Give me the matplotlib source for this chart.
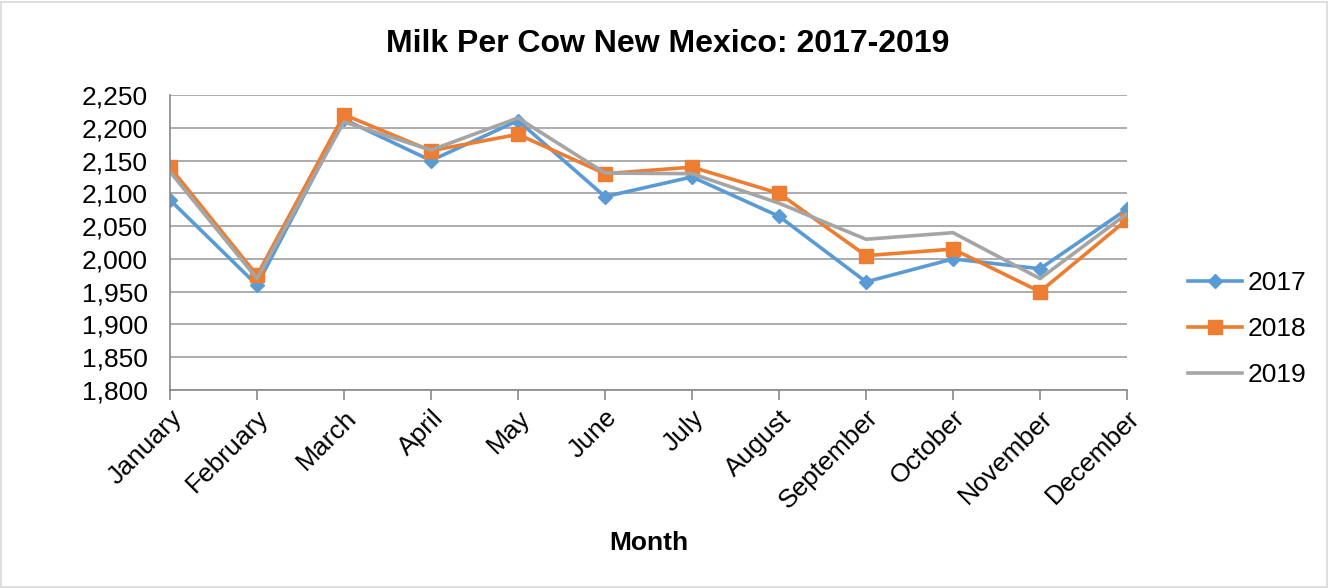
import matplotlib
matplotlib.use('Agg')
import matplotlib.pyplot as plt
from matplotlib.patches import Rectangle
from matplotlib.ticker import FuncFormatter

plt.rcParams['font.family'] = ['Liberation Sans', 'DejaVu Sans']

months = ['January', 'February', 'March', 'April', 'May', 'June', 'July',
          'August', 'September', 'October', 'November', 'December']
milk_2017 = [2090, 1960, 2213, 2150, 2211, 2095, 2125, 2065, 1965, 2000, 1985, 2076]
milk_2018 = [2140, 1975, 2220, 2165, 2190, 2130, 2140, 2100, 2005, 2015, 1950, 2060]
milk_2019 = [2133, 1970, 2209, 2166, 2215, 2131, 2130, 2085, 2030, 2040, 1970, 2069]

fig = plt.figure(figsize=(13.3, 5.88), dpi=100)
ax = fig.add_axes([0.1278, 0.3367, 0.7196, 0.5017])

x = range(len(months))
ax.plot(x, milk_2017, color='#5B9BD5', lw=2.6, marker='D', markersize=7, label='2017')
ax.plot(x, milk_2018, color='#ED7D31', lw=2.6, marker='s', markersize=10, label='2018')
ax.plot(x, milk_2019, color='#A5A5A5', lw=2.6, label='2019')

ax.set_xlim(0, len(months) - 1)
ax.set_ylim(1800, 2250)
ax.set_yticks(range(1800, 2251, 50))
ax.yaxis.set_major_formatter(FuncFormatter(lambda v, p: f'{int(v):,}'))
ax.set_xticks(list(x))
ax.set_xticklabels(months, rotation=45, ha='right', rotation_mode='anchor', fontsize=19)
ax.tick_params(axis='y', labelsize=19, length=0, pad=16)
ax.tick_params(axis='x', length=7, color='#898989', width=1.2, pad=4)
ax.grid(axis='y', color='#A6A6A6', lw=1.3)
ax.set_axisbelow(True)
for s in ['top', 'right']:
    ax.spines[s].set_visible(False)
ax.spines['left'].set_color('#898989')
ax.spines['bottom'].set_color('#898989')
ax.spines['left'].set_linewidth(1.2)
ax.spines['bottom'].set_linewidth(1.2)

fig.text(0.502, 0.926, 'Milk Per Cow New Mexico: 2017-2019', ha='center', va='center',
         fontsize=23, fontweight='bold')
fig.text(0.488, 0.076, 'Month', ha='center', va='center', fontsize=19, fontweight='bold')

fig.legend(loc='center left', bbox_to_anchor=(0.8932, 0.4405), frameon=False, fontsize=19,
           handlelength=2.05, handletextpad=0.2, labelspacing=0.83,
           borderpad=0, borderaxespad=0)

fig.patches.append(Rectangle((0.001, 0.002), 0.997, 0.995, transform=fig.transFigure,
                             fill=False, edgecolor='#D9D9D9', lw=1.2))

fig.savefig('out.png', dpi=100)
